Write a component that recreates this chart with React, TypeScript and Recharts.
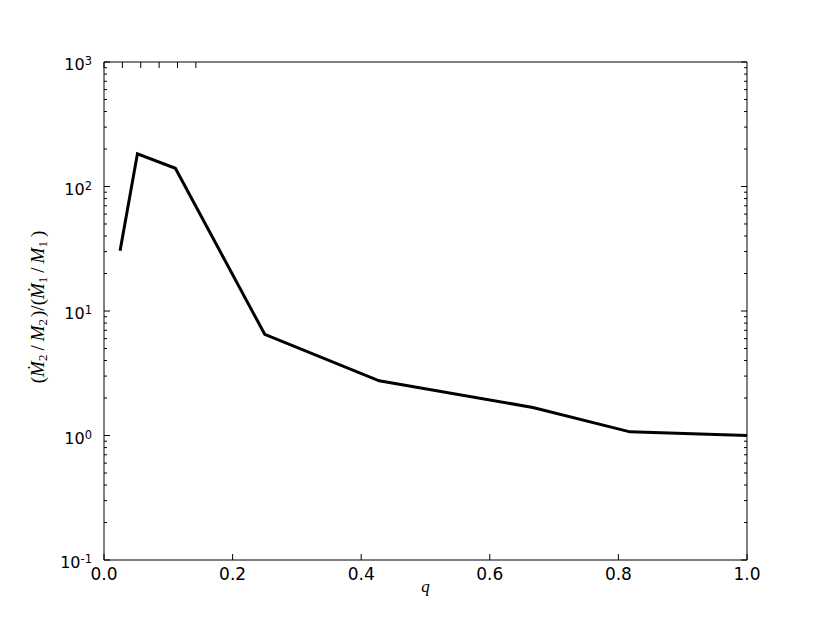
import React from "react";
import { LineChart, Line, XAxis, YAxis } from "recharts";

// mass ratio q and normalised accretion-rate ratio
const qValues = [0.025, 0.052, 0.111, 0.25, 0.428, 0.667, 0.818, 1.0];
const rateRatio = [30.5, 183, 140, 6.5, 2.75, 1.68, 1.07, 1.0];

const xTicks = [0, 0.2, 0.4, 0.6, 0.8, 1.0];
const xTickLabels = ["0.0", "0.2", "0.4", "0.6", "0.8", "1.0"];
const yDecades = [-1, 0, 1, 2, 3];
const yMinorSteps = [2, 3, 4, 5, 6, 7, 8, 9];

const data = qValues.map((q, i) => ({ q, ratio: rateRatio[i] }));

const yTicks = yDecades.flatMap((d) =>
  d === 3
    ? [Math.pow(10, d)]
    : [Math.pow(10, d), ...yMinorSteps.map((m) => m * Math.pow(10, d))]
);

const TICK_FONT = "'DejaVu Sans', sans-serif";
const MATH_FONT = "'Liberation Serif', serif";

const isMajor = (v: number) =>
  Math.abs(Math.log10(v) - Math.round(Math.log10(v))) < 1e-6;

function LeftTick(props: any) {
  const { x, y, payload } = props;
  const v = payload.value as number;
  const major = isMajor(v);
  const ax = x + 11;
  const exp = Math.round(Math.log10(v));
  return (
    <g>
      <line x1={ax} x2={ax + (major ? 6 : 3)} y1={y} y2={y} stroke="#000" strokeWidth={1} />
      {major && (
        <text x={x - 1} y={y + 8} textAnchor="end" fontFamily={TICK_FONT} fontSize={16} fill="#000">
          10
          <tspan dy={-5} fontSize={11.5}>
            {exp < 0 ? "-" + Math.abs(exp) : String(exp)}
          </tspan>
        </text>
      )}
    </g>
  );
}

function RightTick(props: any) {
  const { x, y, payload } = props;
  const major = isMajor(payload.value);
  return <line x1={x} x2={x - (major ? 6 : 3)} y1={y} y2={y} stroke="#000" strokeWidth={1} />;
}

function BottomTick(props: any) {
  const { x, y, index } = props;
  return (
    <g>
      <line x1={x} x2={x} y1={y} y2={y - 6} stroke="#000" strokeWidth={1} />
      <text x={x} y={y + 20} textAnchor="middle" fontFamily={TICK_FONT} fontSize={17} fill="#000">
        {xTickLabels[index]}
      </text>
    </g>
  );
}

function TopTick(props: any) {
  const { x, y } = props;
  return <line x1={x} x2={x} y1={y} y2={y + 6} stroke="#000" strokeWidth={1} />;
}

function XLabel(props: any) {
  const { viewBox } = props;
  const cx = viewBox.x + viewBox.width / 2;
  return (
    <text x={cx} y={viewBox.y + 32} textAnchor="middle" fontFamily={MATH_FONT} fontStyle="italic" fontSize={17} fill="#000">
      q
    </text>
  );
}

function YLabel(props: any) {
  const { viewBox } = props;
  const cx = viewBox.x + 40;
  const cy = viewBox.y + viewBox.height / 2 - 4;
  const sub = { fontSize: 13, fontStyle: "normal" as const };
  return (
    <text
      x={cx}
      y={cy}
      transform={`rotate(-90, ${cx}, ${cy})`}
      textAnchor="middle"
      dominantBaseline="middle"
      fontFamily={MATH_FONT}
      fontSize={19}
      fill="#000"
    >
      <tspan>(</tspan>
      <tspan fontStyle="italic">Ṁ</tspan>
      <tspan dy={4} {...sub}>2</tspan>
      <tspan dy={-4} dx={4}>/</tspan>
      <tspan dx={4} fontStyle="italic">M</tspan>
      <tspan dy={4} {...sub}>2</tspan>
      <tspan dy={-4} dx={2}>)/(</tspan>
      <tspan fontStyle="italic">Ṁ</tspan>
      <tspan dy={4} {...sub}>1</tspan>
      <tspan dy={-4} dx={4}>/</tspan>
      <tspan dx={4} fontStyle="italic">M</tspan>
      <tspan dy={4} {...sub}>1</tspan>
      <tspan dy={-4} dx={4}>)</tspan>
    </text>
  );
}

export default function App() {
  return (
    <div style={{ position: "absolute", left: 0, top: 0, width: 830, height: 623, background: "#fff" }}>
      <LineChart width={830} height={623} data={data} margin={{ top: 0, right: 0, bottom: 0, left: 0 }}>
        <XAxis
          dataKey="q"
          type="number"
          domain={[0, 1]}
          ticks={xTicks}
          interval={0}
          height={63}
          tickSize={0}
          tickMargin={0}
          tickLine={false}
          axisLine={{ stroke: "#000", strokeWidth: 1 }}
          tick={<BottomTick />}
          allowDataOverflow
          label={<XLabel />}
        />
        <XAxis
          xAxisId="top"
          orientation="top"
          type="number"
          domain={[0, 1]}
          ticks={xTicks}
          interval={0}
          height={62}
          tickSize={0}
          tickMargin={0}
          tickLine={false}
          axisLine={{ stroke: "#000", strokeWidth: 1 }}
          tick={<TopTick />}
          allowDataOverflow
        />
        <YAxis
          type="number"
          scale="log"
          domain={[0.1, 1000]}
          ticks={yTicks}
          interval={0}
          width={104}
          tickSize={0}
          tickMargin={11}
          tickLine={false}
          axisLine={{ stroke: "#000", strokeWidth: 1 }}
          tick={<LeftTick />}
          allowDataOverflow
          label={<YLabel />}
        />
        <YAxis
          yAxisId="right"
          orientation="right"
          type="number"
          scale="log"
          domain={[0.1, 1000]}
          ticks={yTicks}
          interval={0}
          width={83}
          tickSize={0}
          tickMargin={0}
          tickLine={false}
          axisLine={{ stroke: "#000", strokeWidth: 1 }}
          tick={<RightTick />}
          allowDataOverflow
        />
        <Line
          type="linear"
          dataKey="ratio"
          stroke="#000"
          strokeWidth={3}
          dot={false}
          isAnimationActive={false}
        />
      </LineChart>
    </div>
  );
}
